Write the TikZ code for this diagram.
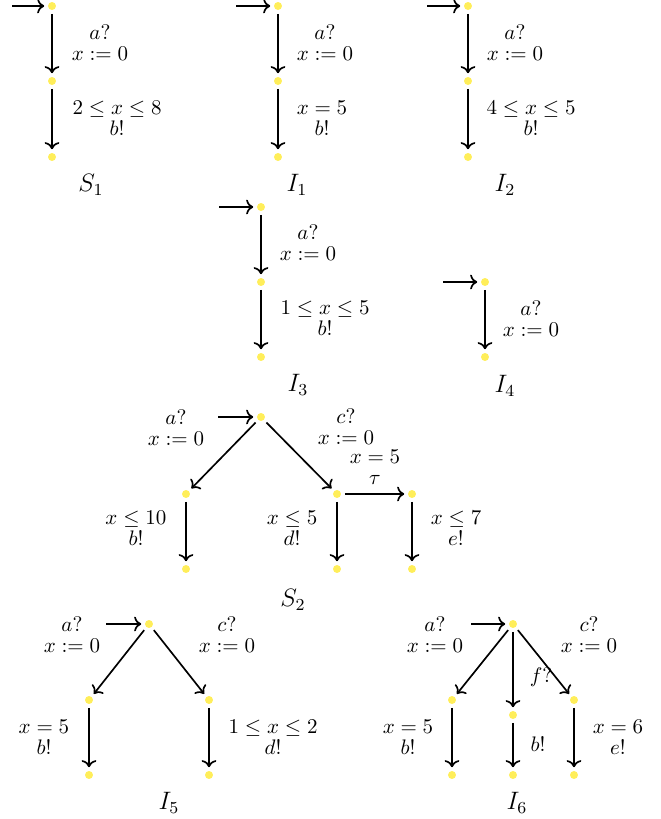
\documentclass[tikz,border=0pt]{standalone}
\usetikzlibrary{arrows.meta}
\definecolor{locyel}{RGB}{255,238,90}
\tikzset{
  loc/.style={circle, fill=locyel, inner sep=0pt, minimum size=3.8pt, outer sep=1.8pt},
  tr/.style={->, thick},
  lbl/.style={align=center, inner sep=0pt, font=\fontsize{10}{10}\selectfont},
  ttl/.style={font=\large},
}
\begin{document}
\begin{tikzpicture}[x=0.4762pt, y=-0.4762pt]
        \useasboundingbox (0,0) rectangle (660,819);
        % S_1
        \node[loc] (s1a) at (52,6) {};
        \node[loc] (s1b) at (52,81) {};
        \node[loc] (s1c) at (52,157) {};
        \coordinate (s1i) at (12,6);
        \draw[tr] (s1i) -- (s1a);
        \draw[tr] (s1a) -- (s1b);
        \draw[tr] (s1b) -- (s1c);
        \node[lbl] (s1l1) at (100,43) {$a?$\\$x := 0$};
        \node[lbl] (s1l2) at (117,118) {$2 \le x \le 8$\\$b!$};
        \node[ttl] (s1t) at (91,185) {$S_1$};
        % I_1
        \node[loc] (i1a) at (278,6) {};
        \node[loc] (i1b) at (278,81) {};
        \node[loc] (i1c) at (278,157) {};
        \coordinate (i1i) at (236,6);
        \draw[tr] (i1i) -- (i1a);
        \draw[tr] (i1a) -- (i1b);
        \draw[tr] (i1b) -- (i1c);
        \node[lbl] (i1l1) at (325,43) {$a?$\\$x := 0$};
        \node[lbl] (i1l2) at (322,118) {$x = 5$\\$b!$};
        \node[ttl] (i1t) at (297,185) {$I_1$};
        % I_2
        \node[loc] (i2a) at (468,6) {};
        \node[loc] (i2b) at (468,81) {};
        \node[loc] (i2c) at (468,157) {};
        \coordinate (i2i) at (427,6);
        \draw[tr] (i2i) -- (i2a);
        \draw[tr] (i2a) -- (i2b);
        \draw[tr] (i2b) -- (i2c);
        \node[lbl] (i2l1) at (515,43) {$a?$\\$x := 0$};
        \node[lbl] (i2l2) at (531,118) {$4 \le x \le 5$\\$b!$};
        \node[ttl] (i2t) at (505,185) {$I_2$};
        % I_3
        \node[loc] (i3a) at (261,207) {};
        \node[loc] (i3b) at (261,282) {};
        \node[loc] (i3c) at (261,357) {};
        \coordinate (i3i) at (219,207);
        \draw[tr] (i3i) -- (i3a);
        \draw[tr] (i3a) -- (i3b);
        \draw[tr] (i3b) -- (i3c);
        \node[lbl] (i3l1) at (308,243) {$a?$\\$x := 0$};
        \node[lbl] (i3l2) at (325,318) {$1 \le x \le 5$\\$b!$};
        \node[ttl] (i3t) at (298,385) {$I_3$};
        % I_4
        \node[loc] (i4a) at (485,282) {};
        \node[loc] (i4b) at (485,357) {};
        \coordinate (i4i) at (443,282);
        \draw[tr] (i4i) -- (i4a);
        \draw[tr] (i4a) -- (i4b);
        \node[lbl] (i4l1) at (531,319) {$a?$\\$x := 0$};
        \node[ttl] (i4t) at (505,386) {$I_4$};
        % S_2
        \node[loc] (s2r) at (261,417) {};
        \node[loc] (s2a) at (186,494) {};
        \node[loc] (s2b) at (337,494) {};
        \node[loc] (s2c) at (412,494) {};
        \node[loc] (s2d) at (186,569) {};
        \node[loc] (s2e) at (337,569) {};
        \node[loc] (s2f) at (412,569) {};
        \coordinate (s2i) at (218,417);
        \draw[tr] (s2i) -- (s2r);
        \draw[tr] (s2r) -- (s2a);
        \draw[tr] (s2r) -- (s2b);
        \draw[tr] (s2b) -- (s2c);
        \draw[tr] (s2a) -- (s2d);
        \draw[tr] (s2b) -- (s2e);
        \draw[tr] (s2c) -- (s2f);
        \node[lbl] (s2l1) at (176,428) {$a?$\\$x := 0$};
        \node[lbl] (s2l2) at (346,427) {$c?$\\$x := 0$};
        \node[lbl] (s2l3) at (375,467) {$x = 5$\\$\tau$};
        \node[lbl] (s2l4) at (136,528) {$x \le 10$\\$b!$};
        \node[lbl] (s2l5) at (292,528) {$x \le 5$\\$d!$};
        \node[lbl] (s2l6) at (456,528) {$x \le 7$\\$e!$};
        \node[ttl] (s2t) at (293,600) {$S_2$};
        % I_5
        \node[loc] (i5r) at (149,624) {};
        \node[loc] (i5a) at (89,700) {};
        \node[loc] (i5b) at (209,700) {};
        \node[loc] (i5c) at (89,775) {};
        \node[loc] (i5d) at (209,775) {};
        \coordinate (i5i) at (106,624);
        \draw[tr] (i5i) -- (i5r);
        \draw[tr] (i5r) -- (i5a);
        \draw[tr] (i5r) -- (i5b);
        \draw[tr] (i5a) -- (i5c);
        \draw[tr] (i5b) -- (i5d);
        \node[lbl] (i5l1) at (72,635) {$a?$\\$x := 0$};
        \node[lbl] (i5l2) at (227,635) {$c?$\\$x := 0$};
        \node[lbl] (i5l3) at (44,737) {$x = 5$\\$b!$};
        \node[lbl] (i5l4) at (273,737) {$1 \le x \le 2$\\$d!$};
        \node[ttl] (i5t) at (169,803) {$I_5$};
        % I_6
        \node[loc] (i6r) at (513,624) {};
        \node[loc] (i6a) at (452,700) {};
        \node[loc] (i6b) at (513,715) {};
        \node[loc] (i6c) at (574,700) {};
        \node[loc] (i6d) at (452,775) {};
        \node[loc] (i6e) at (513,775) {};
        \node[loc] (i6f) at (574,775) {};
        \coordinate (i6i) at (471,624);
        \draw[tr] (i6i) -- (i6r);
        \draw[tr] (i6r) -- (i6a);
        \draw[tr] (i6r) -- (i6b);
        \draw[tr] (i6r) -- (i6c);
        \draw[tr] (i6a) -- (i6d);
        \draw[tr] (i6b) -- (i6e);
        \draw[tr] (i6c) -- (i6f);
        \node[lbl] (i6l1) at (435,635) {$a?$\\$x := 0$};
        \node[lbl] (i6l2) at (589,635) {$c?$\\$x := 0$};
        \node[lbl] (i6l3) at (541,677) {$f?$};
        \node[lbl] (i6l4) at (408,737) {$x = 5$\\$b!$};
        \node[lbl] (i6l5) at (538,744) {$b!$};
        \node[lbl] (i6l6) at (618,737) {$x = 6$\\$e!$};
        \node[ttl] (i6t) at (517,803) {$I_6$};
\end{tikzpicture}
\end{document}
